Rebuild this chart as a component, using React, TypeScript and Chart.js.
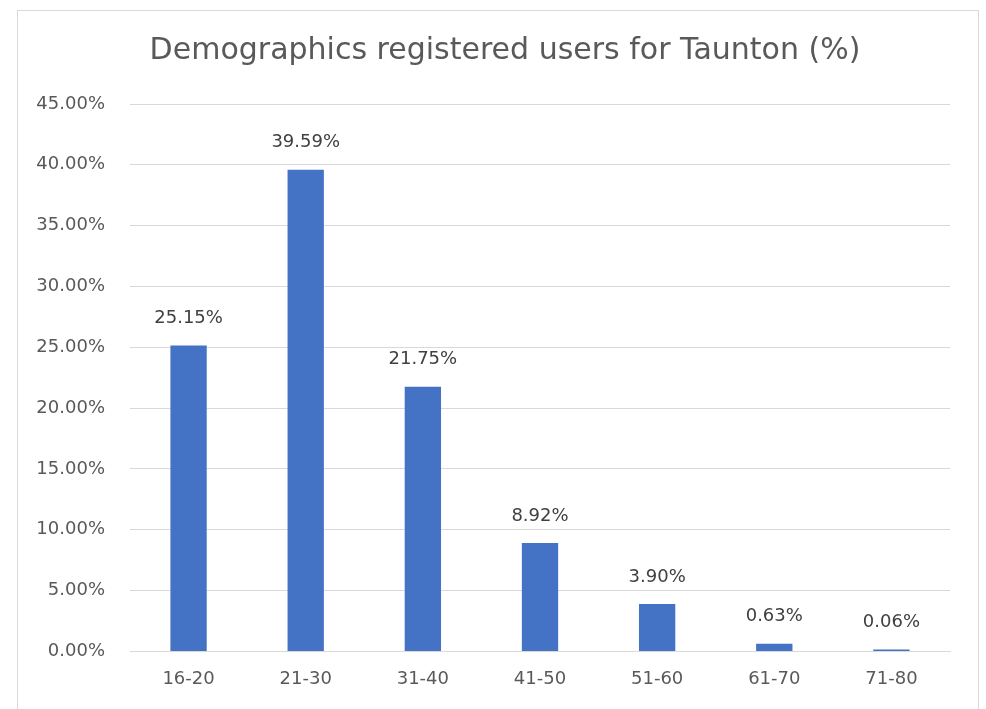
import React, { useEffect, useRef } from "react";
import { Chart, registerables } from "chart.js";

Chart.register(...registerables);

const categories = ["16-20", "21-30", "31-40", "41-50", "51-60", "61-70", "71-80"];
const values = [25.15, 39.59, 21.75, 8.92, 3.9, 0.63, 0.06];
const titleText = "Demographics registered users for Taunton (%)";
const FONT = "'DejaVu Sans', sans-serif";

const dataLabels = {
  id: "dataLabels",
  afterDatasetsDraw(chart: any) {
    const ctx = chart.ctx;
    const meta = chart.getDatasetMeta(0);
    ctx.save();
    ctx.fillStyle = "#404040";
    ctx.font = `18px ${FONT}`;
    ctx.textAlign = "center";
    ctx.textBaseline = "middle";
    meta.data.forEach((bar: any, i: number) => {
      ctx.fillText(values[i].toFixed(2) + "%", bar.x, bar.y - 27);
    });
    ctx.restore();
  },
};

const chartTitle = {
  id: "chartTitle",
  afterDraw(chart: any) {
    const ctx = chart.ctx;
    ctx.save();
    ctx.fillStyle = "#595959";
    ctx.font = `30px ${FONT}`;
    ctx.textAlign = "center";
    ctx.textBaseline = "middle";
    ctx.fillText(titleText, 505, 51);
    ctx.restore();
  },
};

export default function App() {
  const ref = useRef<HTMLCanvasElement | null>(null);
  useEffect(() => {
    if (!ref.current) return;
    const chart = new Chart(ref.current, {
      type: "bar",
      data: {
        labels: categories,
        datasets: [
          {
            data: values,
            backgroundColor: "#4472C4",
            borderWidth: 0,
            categoryPercentage: 1,
            barPercentage: 0.31,
            minBarLength: 2,
          },
        ],
      },
      options: {
        animation: false,
        responsive: false,
        maintainAspectRatio: false,
        layout: { padding: { left: 20, right: 36, top: 104, bottom: 2 } },
        plugins: {
          legend: { display: false },
          tooltip: { enabled: false },
          title: { display: false },
        },
        scales: {
          x: {
            grid: { display: false, drawTicks: false },
            border: { display: true, color: "#d9d9d9" },
            ticks: { color: "#595959", font: { family: FONT, size: 18 }, padding: 17 },
          },
          y: {
            min: 0,
            max: 45,
            afterFit: (s: any) => {
              s.width = 110;
            },
            grid: { color: "#d9d9d9", drawTicks: false },
            border: { display: false },
            ticks: {
              stepSize: 5,
              color: "#595959",
              font: { family: FONT, size: 18 },
              padding: 25,
              callback: (v: any) => Number(v).toFixed(2) + "%",
            },
          },
        },
      },
      plugins: [dataLabels, chartTitle],
    });
    return () => chart.destroy();
  }, []);
  return (
    <div style={{ position: "fixed", left: 0, top: 0, width: 986, height: 709, background: "#fff" }}>
      <div
        style={{
          position: "absolute",
          left: 17,
          top: 10,
          width: 962,
          height: 710,
          border: "1px solid #d9d9d9",
          boxSizing: "border-box",
        }}
      />
      <canvas ref={ref} width={986} height={709} style={{ position: "absolute", left: 0, top: 0 }} />
    </div>
  );
}
